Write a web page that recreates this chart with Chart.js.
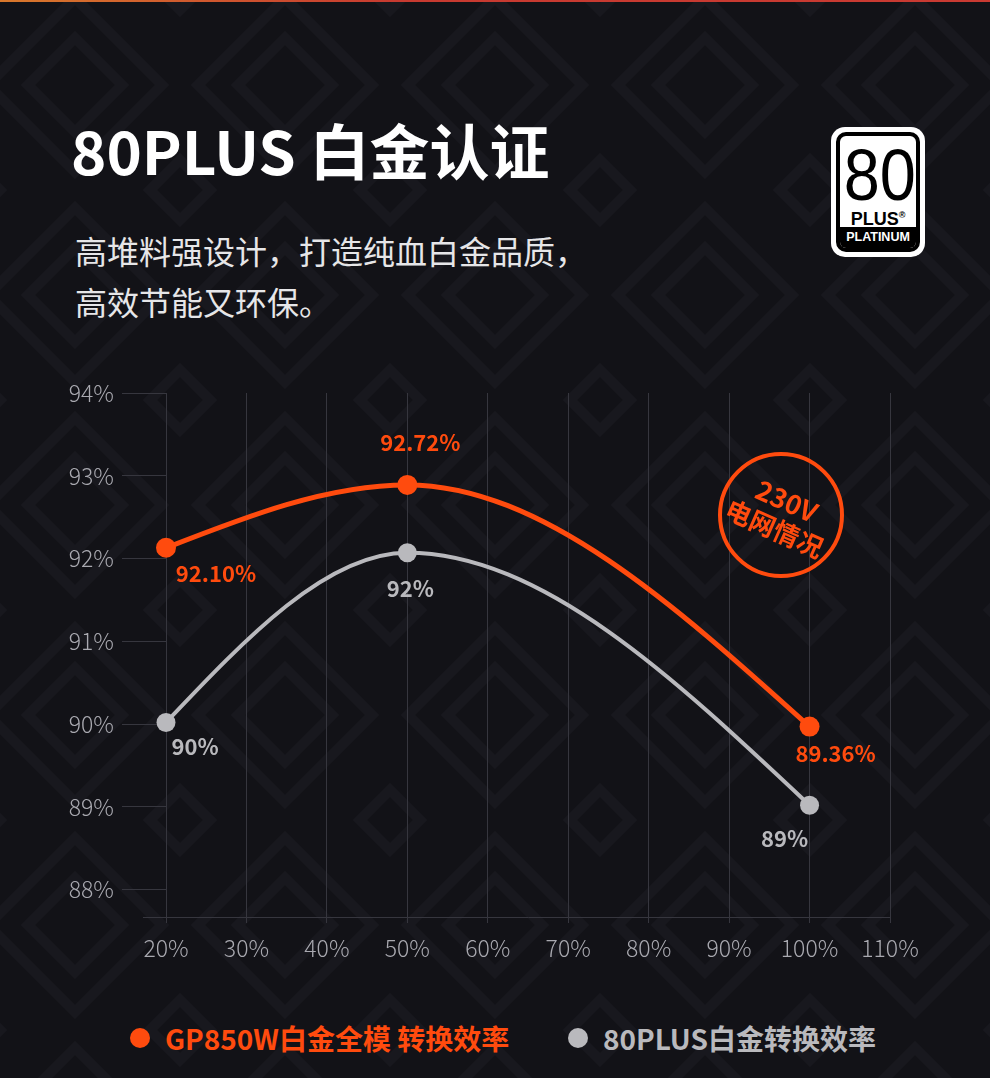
<!DOCTYPE html>
<html>
<head>
<meta charset="utf-8">
<script src="https://cdn.jsdelivr.net/npm/chart.js@4.4.1/dist/chart.umd.min.js"></script>
<style>
  html, body {
    margin: 0;
    padding: 0;
  }
  body {
    width: 990px;
    height: 1078px;
    position: relative;
    overflow: hidden;
    font-family: "Noto Sans CJK SC", "Noto Sans", sans-serif;
    background-color: #121217;
    background-image: url("data:image/svg+xml,%3Csvg xmlns='http://www.w3.org/2000/svg' width='210' height='210'%3E%3Cg fill='none' stroke='%2318181e' stroke-width='10'%3E%3Cpath d='M105 18 L192 105 L105 192 L18 105Z'/%3E%3Cpath d='M105 58 L152 105 L105 152 L58 105Z'/%3E%3Cpath d='M0 -30 L30 0 L0 30 L-30 0Z'/%3E%3Cpath d='M210 -30 L240 0 L210 30 L180 0Z'/%3E%3Cpath d='M0 180 L30 210 L0 240 L-30 210Z'/%3E%3Cpath d='M210 180 L240 210 L210 240 L180 210Z'/%3E%3C/g%3E%3C/svg%3E");
    background-position: -30px -20px;
  }
  .topbar {
    position: absolute;
    left: 0; top: 0;
    width: 990px; height: 2px;
    background: linear-gradient(90deg, #d8782c, #c73a30 40%, #c93a32);
  }
  .title {
    position: absolute;
    left: 71px; top: 119px;
    font-size: 60px;
    line-height: 60px;
    font-weight: 700;
    color: #ffffff;
    white-space: nowrap;
  }
  .subtitle {
    position: absolute;
    left: 75px; top: 225px;
    font-size: 32px;
    line-height: 51px;
    color: #e6e6e8;
    white-space: nowrap;
  }
  .logo {
    position: absolute;
    left: 831px; top: 127px;
    width: 94px; height: 130px;
    background: #ffffff;
    border-radius: 14px;
  }
  .logo .inner {
    position: absolute;
    left: 5px; top: 5px; right: 5px; bottom: 5px;
    border: 4px solid #000;
    border-radius: 10px;
    overflow: hidden;
    text-align: center;
    color: #000;
  }
  .logo .num {
    position: absolute;
    left: 0; right: 0; top: 3px;
    font-family: "Liberation Sans Narrow", "Liberation Sans", sans-serif;
    font-size: 72px;
    line-height: 72px;
    transform: scaleX(0.9);
  }
  .logo .plus {
    position: absolute;
    left: 0; right: 0; top: 70px;
    font-family: "Liberation Sans", sans-serif;
    font-weight: 700;
    font-size: 18px;
    line-height: 18px;
  }
  .logo .plus sup {
    font-size: 9px;
    vertical-align: 7px;
  }
  .logo .plat {
    position: absolute;
    left: 0; right: 0; bottom: 0;
    height: 21px;
    background: #000;
    color: #fff;
    font-family: "Liberation Sans", sans-serif;
    font-weight: 700;
    font-size: 12.5px;
    line-height: 21px;
  }
  .badge {
    position: absolute;
    left: 718px; top: 452px;
    width: 118px; height: 118px;
    border: 4.5px solid #ff4b0e;
    border-radius: 50%;
  }
  .badge .txt {
    position: absolute;
    left: 0; right: 0; top: 28px;
    text-align: center;
    color: #ff4b0e;
    font-weight: 700;
    transform: rotate(24deg);
  }
  .badge .l1 { font-size: 27px; line-height: 29px; }
  .badge .l2 { font-size: 26px; line-height: 31px; }
  #chartWrap {
    position: absolute;
    left: 0; top: 370px;
    width: 990px; height: 610px;
  }
  .legend-item {
    position: absolute;
    top: 1019px;
    height: 38px;
    line-height: 38px;
    font-size: 28px;
    font-weight: 700;
    white-space: nowrap;
  }
  .legend-item .dot {
    position: absolute;
    left: 0; top: 9px;
    width: 20px; height: 20px;
    border-radius: 50%;
  }
  .legend-item .name {
    position: absolute;
    left: 35px; top: 0;
  }
</style>
</head>
<body>
<div class="topbar"></div>
<div class="title">80PLUS 白金认证</div>
<div class="subtitle">高堆料强设计，打造纯血白金品质，<br>高效节能又环保。</div>

<div class="logo">
  <div class="inner">
    <div class="num">80</div>
    <div class="plus">PLUS<sup>®</sup></div>
    <div class="plat">PLATINUM</div>
  </div>
</div>

<div id="chartWrap"><canvas id="effChart"></canvas></div>

<div class="badge"><div class="txt"><div class="l1">230V</div><div class="l2">电网情况</div></div></div>

<div id="legend"></div>

<script>
// Chart data
const loadLevels = [20, 50, 100];
const gpEfficiency = [92.13, 92.89, 89.97];
const gpLabels = ["92.10%", "92.72%", "89.36%"];
const stdEfficiency = [90.02, 92.07, 89.02];
const stdLabels = ["90%", "92%", "89%"];
const xTicks = [20, 30, 40, 50, 60, 70, 80, 90, 100, 110];
const yTicks = [88, 89, 90, 91, 92, 93, 94];
const seriesNames = ["GP850W白金全模 转换效率", "80PLUS白金转换效率"];

const ORANGE = "#ff4b0e";
const GRAY = "#b9b9bd";
const GRID = "#36363e";
const TICK = "#a9a9b0";

// point labels, offsets in px from each point
const labelOffsets = [
  [[50, 26], [13, -42], [26, 27]],
  [[29, 24], [3, 36], [-25, 33]]
];

const pointLabels = {
  id: "pointLabels",
  afterDatasetsDraw(chart) {
    const ctx = chart.ctx;
    const texts = [gpLabels, stdLabels];
    ctx.save();
    ctx.font = "700 22px 'Noto Sans CJK SC', sans-serif";
    ctx.textAlign = "center";
    ctx.textBaseline = "middle";
    chart.data.datasets.forEach((ds, di) => {
      const meta = chart.getDatasetMeta(di);
      ctx.fillStyle = ds.borderColor;
      meta.data.forEach((pt, i) => {
        const off = labelOffsets[di][i];
        ctx.fillText(texts[di][i], pt.x + off[0], pt.y + off[1]);
      });
    });
    ctx.restore();
  }
};

// smoother curve: flat at the peaks, free (natural) at the two ends
const smoothCurve = {
  id: "smoothCurve",
  beforeDatasetDraw(chart, args) {
    const meta = args.meta;
    const pts = meta.data;
    const n = pts.length;
    if (n < 3) return;
    meta.dataset.updateControlPoints(chart.chartArea, "x");

    const h = [], d = [];
    for (let i = 0; i < n - 1; i++) {
      h.push(pts[i + 1].x - pts[i].x);
      d.push((pts[i + 1].y - pts[i].y) / h[i]);
    }
    const s = new Array(n).fill(0);
    for (let i = 1; i < n - 1; i++) {
      if (d[i - 1] * d[i] > 0) {
        s[i] = (h[i] * d[i - 1] + h[i - 1] * d[i]) / (h[i - 1] + h[i]);
      }
    }
    s[0] = (3 * d[0] - s[1]) / 2;
    s[n - 1] = (3 * d[n - 2] - s[n - 2]) / 2;

    for (let i = 0; i < n; i++) {
      const p = pts[i];
      if (i > 0) {
        const hp = h[i - 1] / 3;
        p.cp1x = p.x - hp;
        p.cp1y = p.y - s[i] * hp;
      }
      if (i < n - 1) {
        const hn = h[i] / 3;
        p.cp2x = p.x + hn;
        p.cp2y = p.y + s[i] * hn;
      }
    }
  }
};

// x axis line runs a bit further left than the plot
const baseLine = {
  id: "baseLine",
  beforeDatasetsDraw(chart) {
    const { ctx, chartArea } = chart;
    ctx.save();
    ctx.strokeStyle = GRID;
    ctx.lineWidth = 1;
    ctx.beginPath();
    ctx.moveTo(chartArea.left - 23, chartArea.bottom + 0.5);
    ctx.lineTo(chartArea.left, chartArea.bottom + 0.5);
    ctx.stroke();
    ctx.restore();
  }
};

const tickFont = { family: "'Noto Sans CJK SC', sans-serif", size: 23, weight: "300" };

new Chart(document.getElementById("effChart"), {
  type: "line",
  data: {
    datasets: [
      {
        label: seriesNames[0],
        data: loadLevels.map((x, i) => ({ x: x, y: gpEfficiency[i] })),
        borderColor: ORANGE,
        backgroundColor: ORANGE,
        borderWidth: 5,
        pointRadius: 10,
        pointBorderWidth: 0,
        tension: 0.4,
        clip: false
      },
      {
        label: seriesNames[1],
        data: loadLevels.map((x, i) => ({ x: x, y: stdEfficiency[i] })),
        borderColor: GRAY,
        backgroundColor: GRAY,
        borderWidth: 4,
        pointRadius: 9.5,
        pointBorderWidth: 0,
        tension: 0.4,
        clip: false
      }
    ]
  },
  options: {
    responsive: true,
    maintainAspectRatio: false,
    animation: false,
    layout: { padding: { top: 23, right: 100, left: 0, bottom: 0 } },
    plugins: {
      legend: { display: false },
      tooltip: { enabled: false }
    },
    scales: {
      x: {
        type: "linear",
        min: 20,
        max: 110,
        afterFit: function(scale) { scale.height = 63; },
        afterBuildTicks: function(scale) { scale.ticks = xTicks.map(v => ({ value: v })); },
        grid: { color: GRID, lineWidth: 1, drawTicks: true, tickLength: 6 },
        border: { display: true, color: GRID },
        ticks: {
          color: TICK,
          font: tickFont,
          padding: 11,
          maxRotation: 0,
          callback: function(v) { return v + "%"; }
        }
      },
      y: {
        min: 87.67,
        max: 94,
        afterFit: function(scale) { scale.width = 166; },
        afterBuildTicks: function(scale) { scale.ticks = yTicks.map(v => ({ value: v })); },
        grid: { color: GRID, lineWidth: 1, drawOnChartArea: false, drawTicks: true, tickLength: 44 },
        border: { display: false },
        ticks: {
          color: TICK,
          font: tickFont,
          padding: 8,
          callback: function(v) { return v + "%"; }
        }
      }
    }
  },
  plugins: [baseLine, smoothCurve, pointLabels]
});

// legend
const legendEl = document.getElementById("legend");
const legendColors = [ORANGE, GRAY];
const legendLeft = [130, 568];
seriesNames.forEach((name, i) => {
  const item = document.createElement("div");
  item.className = "legend-item";
  item.style.left = legendLeft[i] + "px";
  item.style.color = legendColors[i];
  item.innerHTML = '<span class="dot" style="background:' + legendColors[i] + '"></span><span class="name">' + name + '</span>';
  legendEl.appendChild(item);
});
</script>
</body>
</html>
